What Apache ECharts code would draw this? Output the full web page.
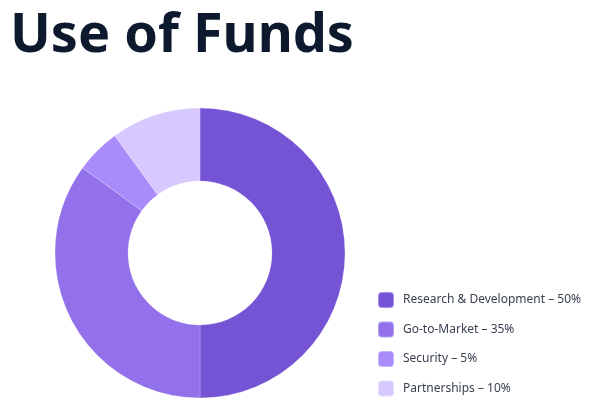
<!DOCTYPE html>
<html><head><meta charset="utf-8">
<script src="https://cdn.jsdelivr.net/npm/echarts@6/dist/echarts.min.js"></script>
<style>html,body{margin:0;padding:0;background:#fff}#c{width:599px;height:419px}</style>
</head><body><div id="c"></div>
<script>
const categories = ["Research & Development", "Go-to-Market", "Security", "Partnerships"];
const values = [50, 35, 5, 10];
const colors = ["#7553d5", "#9271eb", "#a98bfa", "#d7c9fe"];

const chart = echarts.init(document.getElementById('c'), null, {renderer: 'canvas'});
const data = categories.map((n, i) => ({name: n, value: values[i], itemStyle: {color: colors[i]}}));
chart.setOption({
  animation: false,
  title: {
    text: 'Use of Funds', left: 5, top: 5,
    textStyle: {fontFamily: 'Noto Sans', fontWeight: 'bold', fontSize: 54, color: '#0d1a2e'}
  },
  legend: {
    orient: 'vertical', left: 372, top: 286, padding: 5,
    itemWidth: 16, itemHeight: 16, itemGap: 11.5,
    icon: 'roundRect',
    textStyle: {fontFamily: 'Noto Sans', fontSize: 12, color: '#3a4150', lineHeight: 16, padding: [0,0,0,4]},
    formatter: function (name) {
      const i = categories.indexOf(name);
      return name + ' \u2013 ' + values[i] + '%';
    }
  },
  series: [{
    type: 'pie', center: [200, 253], radius: [72, 145],
    startAngle: 90, clockwise: true,
    label: {show: false}, labelLine: {show: false},
    itemStyle: {borderColor: 'rgba(255,255,255,0.35)', borderWidth: 0.6},
    emphasis: {disabled: true},
    data: data
  }]
});
</script></body></html>
